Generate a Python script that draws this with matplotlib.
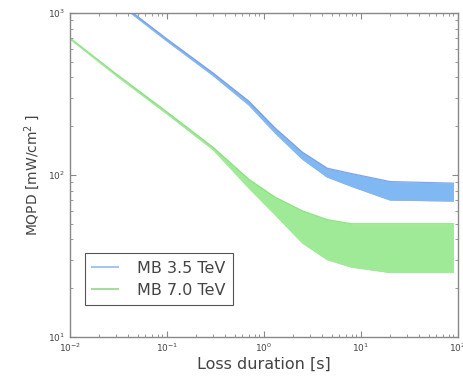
import matplotlib
matplotlib.use("Agg")
import matplotlib.pyplot as plt
import numpy as np

# Loss duration grid [s]
duration = [0.01, 0.03, 0.1, 0.3, 0.7, 1.3, 2.5, 4.5, 8, 20, 90]

# MQPD envelope for MB 3.5 TeV [mW/cm^2]
mb35_upper = [1950, 1200, 690, 425, 285, 195, 138, 110, 102, 91, 89]
mb35_lower = [1900, 1170, 670, 410, 270, 182, 125, 97, 85, 70, 69]

# MQPD envelope for MB 7.0 TeV [mW/cm^2]
mb70_upper = [700, 420, 245, 148, 94, 73, 60, 53, 50, 50, 50]
mb70_lower = [690, 410, 238, 143, 83, 57, 38, 30, 27, 25, 25]

series_labels = ["MB 3.5 TeV", "MB 7.0 TeV"]
blue_fill, blue_edge = "#80b8f4", "#6f8fd8"
green_fill, green_edge = "#9fea96", "#7fd874"
text_color = "#444444"

fig = plt.figure(figsize=(4.63, 3.77), dpi=100)
ax = fig.add_axes([0.151, 0.106, 0.838, 0.860])

ax.fill_between(duration, mb35_lower, mb35_upper, color=blue_fill, lw=0)
ax.plot(duration, mb35_upper, color=blue_edge, lw=0.9, alpha=0.8)
ax.plot(duration, mb35_lower, color=blue_fill, lw=0.9)
ax.fill_between(duration, mb70_lower, mb70_upper, color=green_fill, lw=0)
ax.plot(duration, mb70_upper, color=green_edge, lw=0.9, alpha=0.8)
ax.plot(duration, mb70_lower, color=green_fill, lw=0.9)

ax.set_xscale("log")
ax.set_yscale("log")
ax.set_xlim(0.01, 100)
ax.set_ylim(10, 1000)

for s in ax.spines.values():
    s.set_color("#888888")
    s.set_linewidth(1.0)
ax.tick_params(which="both", direction="in", top=True, right=True,
               colors="#888888", labelcolor=text_color, labelsize=6.5)
ax.tick_params(which="major", length=4)
ax.tick_params(which="minor", length=2)

ax.set_xlabel("Loss duration [s]", fontsize=11.5, color=text_color, labelpad=2)
ax.set_ylabel("MQPD [mW/cm$^2$ ]", fontsize=10, color=text_color)

handles = [plt.Line2D([], [], color="#a8c4f0", lw=1.5),
           plt.Line2D([], [], color="#a6dc9c", lw=1.5)]
leg = ax.legend(handles, series_labels, loc="lower left",
                bbox_to_anchor=(0.039, 0.099), borderaxespad=0,
                fontsize=11.5, fancybox=False,
                framealpha=1, edgecolor="#555555", borderpad=0.45,
                handlelength=1.6, handletextpad=1.2, labelspacing=0.45)
for t in leg.get_texts():
    t.set_color(text_color)
leg.get_frame().set_linewidth(0.8)

fig.savefig("out.png", dpi=100)
